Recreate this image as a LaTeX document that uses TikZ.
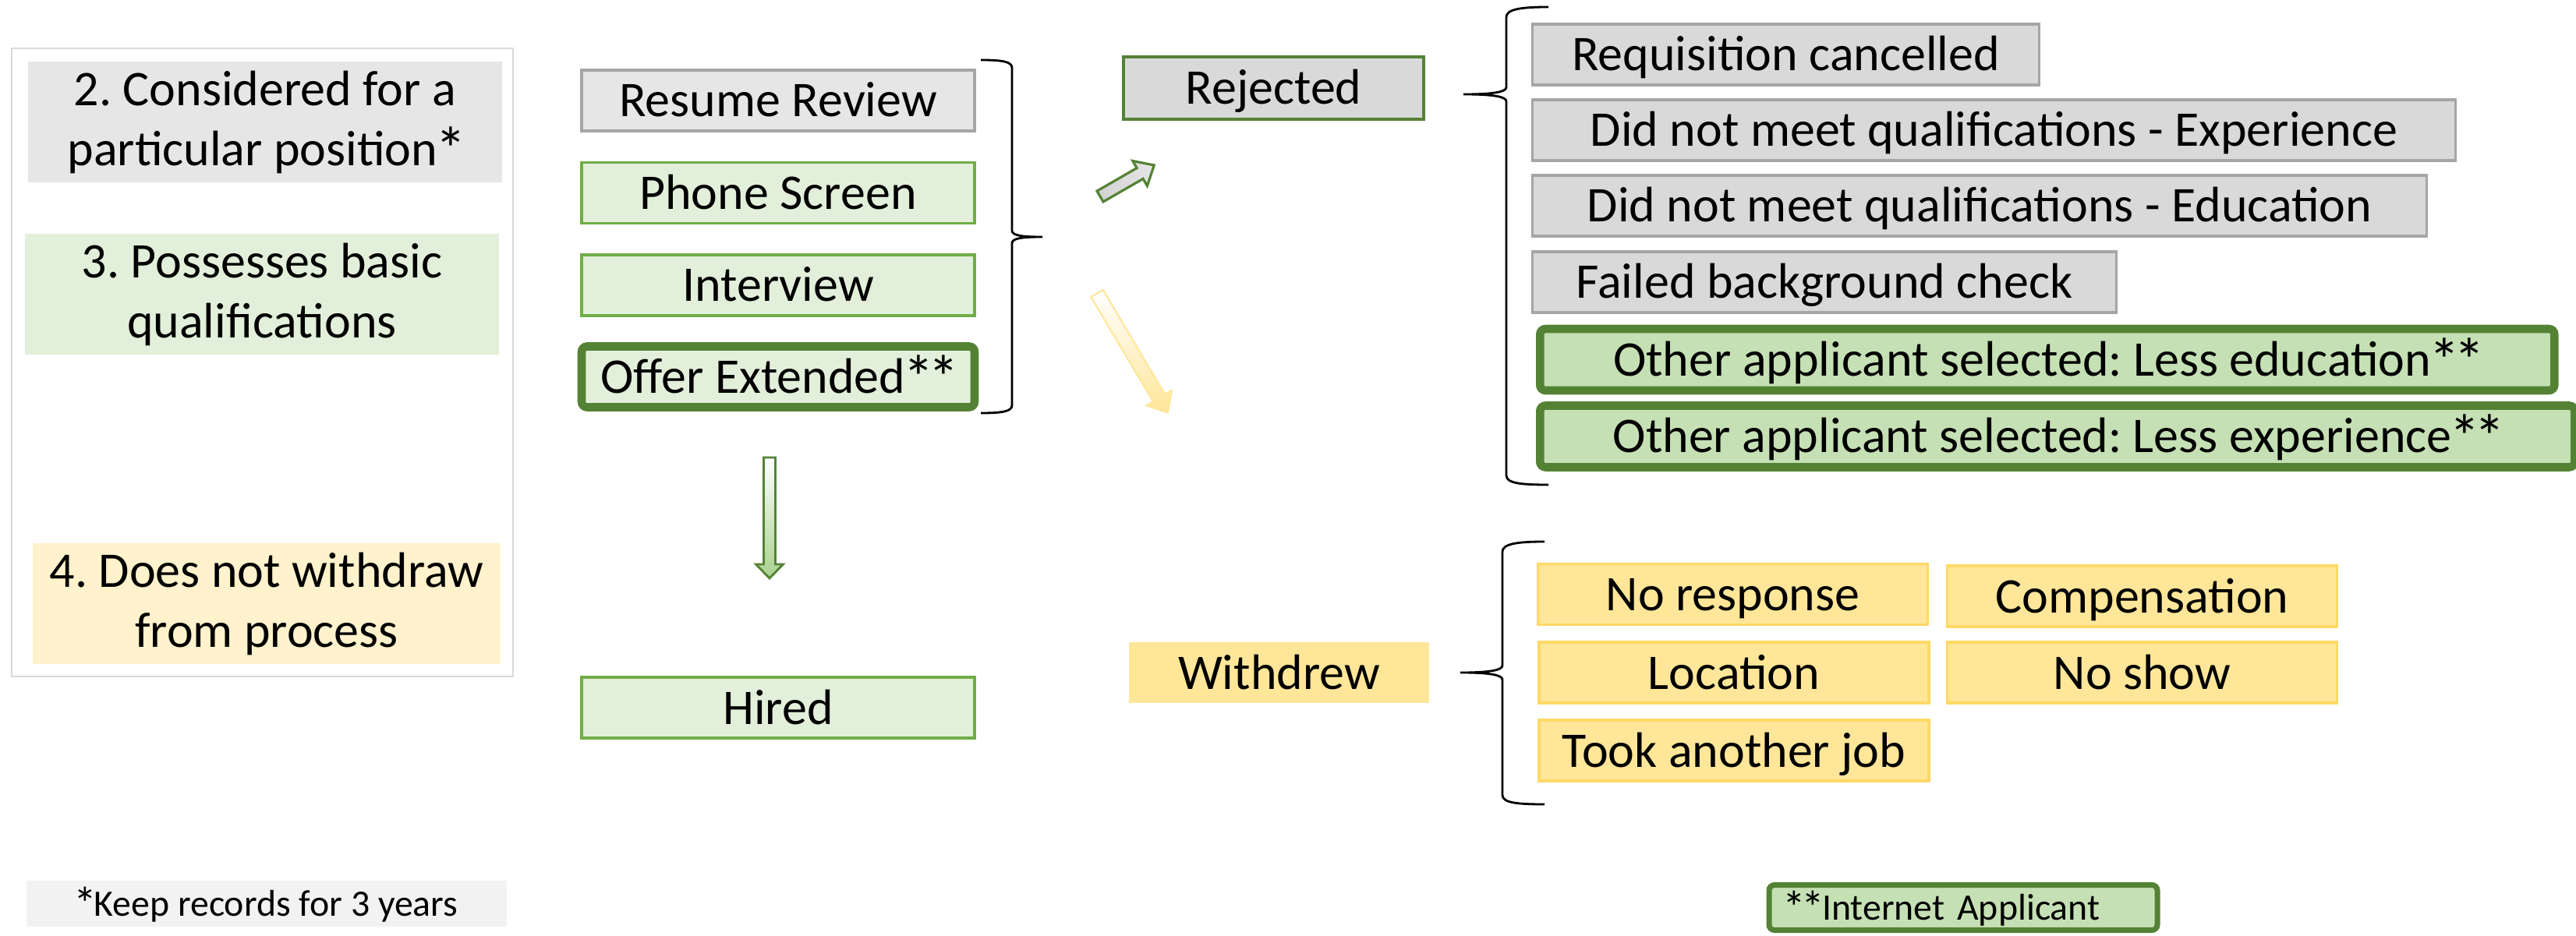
\documentclass[tikz,border=0pt]{standalone}
\usepackage{graphicx}
\usepackage{fontspec}
\setmainfont{Carlito}
\frenchspacing

\definecolor{panelline}{HTML}{D9D9D9}
\definecolor{stepgray}{HTML}{E7E6E6}
\definecolor{reasongray}{HTML}{D9D9D9}
\definecolor{grayline}{HTML}{A5A5A5}
\definecolor{stepgreen}{HTML}{E2EFDA}
\definecolor{greenline}{HTML}{70AD47}
\definecolor{darkgreen}{HTML}{548235}
\definecolor{netgreen}{HTML}{C5E0B4}
\definecolor{arrowgreen}{HTML}{A9D18E}
\definecolor{quityellow}{HTML}{FFE699}
\definecolor{quitline}{HTML}{FFD966}
\definecolor{paleyellow}{HTML}{FFF2CC}
\definecolor{notegray}{HTML}{F2F2F2}

% footnote marks, a bit larger than the font's own asterisk
\newcommand{\fnast}{\kern-0.05em\raisebox{-0.12em}{\scalebox{1.25}{*}}\kern-0.07em}

\begin{document}
\begin{tikzpicture}[
    every node/.style={inner sep=0pt, font=\fontsize{18.2}{21.9}\selectfont},
    oneline/.style={text height=0.55cm, text depth=0.13cm},
    criterion/.style={minimum width=6.08cm, minimum height=1.55cm, align=center},
    stagebox/.style={oneline, draw=greenline, fill=stepgreen, line width=0.9pt, minimum width=5.04cm, minimum height=0.78cm},
    reasonbox/.style={oneline, draw=grayline, fill=reasongray, line width=0.9pt, minimum height=0.78cm, anchor=west},
    netbox/.style={oneline, draw=darkgreen, fill=netgreen, line width=3pt, rounded corners=2pt, minimum height=0.79cm, anchor=west},
    quitbox/.style={oneline, draw=quitline, fill=quityellow, line width=0.9pt, minimum width=5.0cm, minimum height=0.78cm},
    notefont/.style={font=\fontsize{13.6}{16}\selectfont, text height=0.41cm, text depth=0.10cm},
    curly/.style={line width=0.8pt}
]
\useasboundingbox (0,0) rectangle (33.04,12);

% Criteria panel
\draw[panelline, line width=0.8pt] (0.15,3.32) rectangle (6.58,11.38);
\node[criterion, fill=stepgray] (considered) at (3.40,10.435) {2. Considered for a\\particular position\fnast};
\node[criterion, fill=stepgreen] (basic) at (3.36,8.22) {3. Possesses basic\\qualifications};
\node[criterion, fill=paleyellow, minimum width=6.00cm] (nowithdraw) at (3.42,4.255) {4. Does not withdraw\\from process};

% Hiring stages
\node[stagebox, draw=grayline, fill=stepgray] (resume) at (9.98,10.71) {Resume Review};
\node[stagebox] (phone) at (9.98,9.525) {Phone Screen};
\node[stagebox] (interview) at (9.98,8.34) {Interview};
\node[stagebox, draw=darkgreen, line width=3pt, rounded corners=2pt] (offer) at (9.98,7.165) {Offer Extended\fnast\fnast};
\node[stagebox] (hired) at (9.98,2.92) {Hired};

\draw[curly] (12.58,11.23) .. controls (12.85,11.23) and (12.98,11.21) .. (12.98,11.13)
    -- (12.98,9.04) .. controls (12.98,8.98) and (13.10,8.96) .. (13.37,8.96)
    .. controls (13.10,8.96) and (12.98,8.94) .. (12.98,8.88)
    -- (12.98,6.80) .. controls (12.98,6.72) and (12.85,6.70) .. (12.58,6.70);

% Block arrows
\shade[top color=white, bottom color=arrowgreen, draw=darkgreen, line width=0.8pt]
    (9.795,6.13) -- (9.795,4.76) -- (9.695,4.76) -- (9.87,4.58) -- (10.045,4.76) -- (9.945,4.76) -- (9.945,6.13) -- cycle;
\shade[left color=gray!35, middle color=white, right color=gray!20, draw=darkgreen, line width=0.9pt]
    (14.07,9.549) -- (14.581,9.844) -- (14.529,9.935) -- (14.803,9.88) -- (14.714,9.615) -- (14.661,9.706) -- (14.15,9.411) -- cycle;
\shade[top color=white, bottom color=quityellow, draw=quityellow, line width=0.6pt]
    (14.147,8.281) -- (14.943,6.940) -- (15.029,6.991) -- (14.979,6.704) -- (14.703,6.797) -- (14.789,6.848) -- (13.993,8.189) -- cycle;

% Outcomes
\node[stagebox, draw=darkgreen, fill=reasongray, line width=1.2pt, minimum width=3.85cm, minimum height=0.80cm] (rejected) at (16.335,10.87) {Rejected};
\node[oneline, fill=quityellow, minimum width=3.85cm, minimum height=0.78cm] (withdrew) at (16.405,3.37) {Withdrew};

% Rejection reasons
\draw[curly] (19.86,11.91) .. controls (19.50,11.91) and (19.32,11.88) .. (19.32,11.78)
    -- (19.32,10.88) .. controls (19.32,10.82) and (19.15,10.79) .. (18.77,10.79)
    .. controls (19.15,10.79) and (19.32,10.76) .. (19.32,10.70)
    -- (19.32,5.90) .. controls (19.32,5.80) and (19.50,5.78) .. (19.86,5.78);
\node[reasonbox, minimum width=6.50cm] (cancelled) at (19.64,11.30) {Requisition cancelled};
\node[reasonbox, minimum width=11.84cm] (noexp) at (19.64,10.33) {Did not meet qualifications - Experience};
\node[reasonbox, minimum width=11.47cm] (noedu) at (19.64,9.36) {Did not meet qualifications - Education};
\node[reasonbox, minimum width=7.49cm] (background) at (19.64,8.38) {Failed background check};
\node[netbox, minimum width=13.01cm] (lessedu) at (19.70,7.385) {Other applicant selected: Less education\fnast\fnast};
\node[netbox, minimum width=13.27cm] (lessexp) at (19.70,6.40) {Other applicant selected: Less experience\fnast\fnast};

% Withdrawal reasons
\draw[curly] (19.81,5.05) .. controls (19.45,5.05) and (19.27,5.02) .. (19.27,4.92)
    -- (19.27,3.46) .. controls (19.27,3.40) and (19.10,3.37) .. (18.73,3.37)
    .. controls (19.10,3.37) and (19.27,3.34) .. (19.27,3.28)
    -- (19.27,1.80) .. controls (19.27,1.70) and (19.45,1.68) .. (19.81,1.68);
\node[quitbox] (noresponse) at (22.225,4.375) {No response};
\node[quitbox] (compensation) at (27.475,4.35) {Compensation};
\node[quitbox] (location) at (22.24,3.37) {Location};
\node[quitbox] (noshow) at (27.475,3.37) {No show};
\node[quitbox] (otherjob) at (22.24,2.37) {Took another job};

% Footnotes
\node[notefont, fill=notegray, minimum width=6.165cm, minimum height=0.59cm] (records) at (3.42,0.405) {\fnast Keep records for 3 years};
\node[notefont, draw=darkgreen, fill=netgreen, line width=2pt, rounded corners=2pt, minimum height=0.58cm,
      text width=4.58cm, inner xsep=0.2cm, align=left] (internet) at (25.18,0.355) {\fnast\fnast Internet Applicant};

\end{tikzpicture}
\end{document}
